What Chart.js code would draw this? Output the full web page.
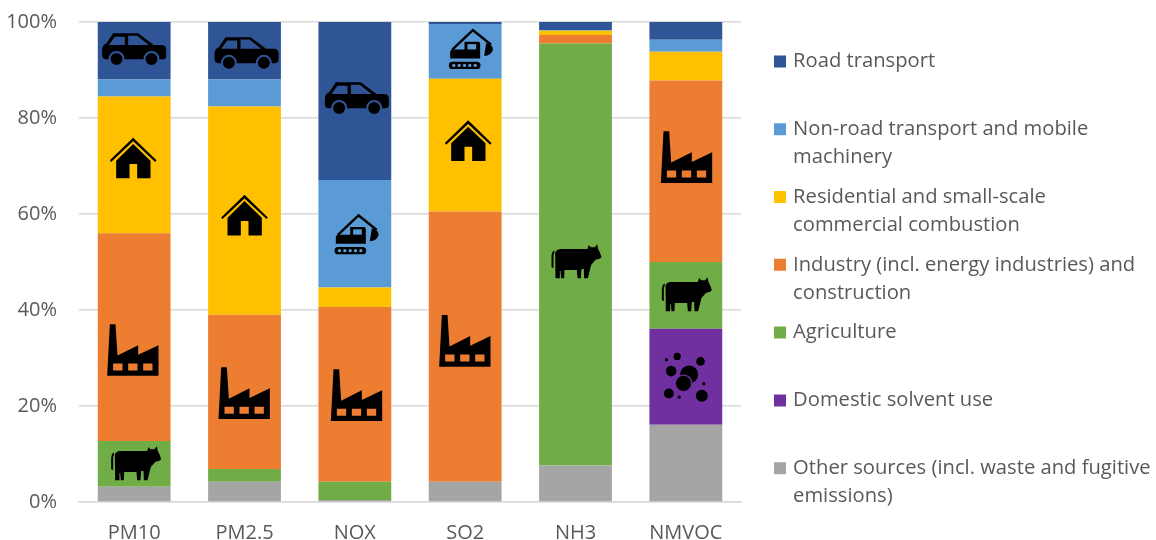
<!DOCTYPE html>
<html>
<head>
<meta charset="utf-8">
<script src="https://cdn.jsdelivr.net/npm/chart.js@4"></script>
<style>
  html, body { margin: 0; background: #fff; }
  canvas { display: block; }
</style>
</head>
<body>
<canvas id="chart" width="1156" height="540"></canvas>
<script>
const categories = ['PM10', 'PM2.5', 'NOX', 'SO2', 'NH3', 'NMVOC'];
const tickLabels = ['0%', '20%', '40%', '60%', '80%', '100%'];

const other = [3.2, 4.2, 0.4, 4.2, 7.6, 16.1];
const solvent = [0, 0, 0, 0, 0, 20];
const agriculture = [9.5, 2.7, 3.8, 0, 87.9, 13.9];
const industry = [43.3, 32.1, 36.4, 56.3, 1.8, 37.8];
const residential = [28.5, 43.4, 4.1, 27.7, 0.9, 6];
const nonRoad = [3.5, 5.6, 22.4, 11.4, 0.1, 2.5];
const road = [12, 12, 32.9, 0.4, 1.7, 3.7];

// pictograms, traced in 3x units round their own centre
const icons = {
  car: { c: [403, 148], parts: [
    ['k', 'M340 100 H415 L462 135 H485 Q499 135 499 150 V168 Q499 178 488 178 H320 Q307 178 307 165 V150 Q307 135 320 130 Z'],
    ['b', 'M327 135 L345 110 H375 V135 Z M385 107 H412 L447 135 H385 Z'],
    ['b', 'M326 177 a24 24 0 1 0 48 0 a24 24 0 1 0 -48 0 Z M431 177 a24 24 0 1 0 48 0 a24 24 0 1 0 -48 0 Z'],
    ['k', 'M332 177 a18 18 0 1 0 36 0 a18 18 0 1 0 -36 0 Z M437 177 a18 18 0 1 0 36 0 a18 18 0 1 0 -36 0 Z']
  ]},
  house: { c: [400, 475], parts: [
    ['k', 'M330 481 L400 413 L470 481 L466 486 L400 424 L334 486 Z'],
    ['k', 'M349 535 V482 L400 432 L452 482 V535 H412 V492 H389 V535 Z']
  ]},
  factory: { c: [400, 238], parts: [
    ['k', 'M330 161 H347 L353 255 L415 224 V253 L476 224 V316 H322 Z'],
    ['b', 'M340 279 h28 v21 h-28 Z M385 279 h28 v21 h-28 Z M430 279 h28 v21 h-28 Z']
  ]},
  excavator: { c: [1070, 700], parts: [
    ['k', 'M1010 702 L1075 640 L1132 686 L1127 691 L1075 650 L1016 706 Z'],
    ['k', 'M1050 680 H1092 Q1097 680 1097 690 V730 H1007 V712 Q1007 704 1015 703 H1050 Z'],
    ['b', 'M1059 687 H1085 V703 H1059 Z'],
    ['k', 'M1115 684 Q1137 690 1135 705 Q1130 722 1109 723 Z'],
    ['k', 'M1014 740 H1087 a11 11 0 0 1 0 22 H1014 a11 11 0 0 1 0 -22 Z'],
    ['b', 'M1013 751 a5 5 0 1 0 10 0 a5 5 0 1 0 -10 0 Z M1029 751 a5 5 0 1 0 10 0 a5 5 0 1 0 -10 0 Z M1045 751 a5 5 0 1 0 10 0 a5 5 0 1 0 -10 0 Z M1061 751 a5 5 0 1 0 10 0 a5 5 0 1 0 -10 0 Z M1077 751 a5 5 0 1 0 10 0 a5 5 0 1 0 -10 0 Z']
  ]},
  cow: { c: [408, 575], parts: [
    ['k', 'M333 595 V560 Q334 548 341 544 L342 550 Q339 556 339 565 V597 Z'],
    ['k', 'M344 552 Q346 541 360 540 H441 L445 528 L451 535 H463 L470 526 L473 540 Q480 552 483 565 Q478 572 466 572 L452 588 L442 628 H431 L430 600 H423 L421 628 H411 L409 603 H372 L371 628 H362 L360 606 H358 V628 H345 Z']
  ]},
  bubbles: { c: [917, 315], parts: [
    ['k', 'M900 311 a27 27 0 1 0 54 0 a27 27 0 1 0 -54 0 Z'],
    ['b', 'M883 338 a27 27 0 1 0 54 0 a27 27 0 1 0 -54 0 Z'],
    ['k', 'M887 338 a23 23 0 1 0 46 0 a23 23 0 1 0 -46 0 Z'],
    ['k', 'M857 301 a16 16 0 1 0 32 0 a16 16 0 1 0 -32 0 Z M880 257 a11 11 0 1 0 22 0 a11 11 0 1 0 -22 0 Z M948 272 a13 13 0 1 0 26 0 a13 13 0 1 0 -26 0 Z M854 267 a5 5 0 1 0 10 0 a5 5 0 1 0 -10 0 Z M966 339 a5 5 0 1 0 10 0 a5 5 0 1 0 -10 0 Z M851 368 a15 15 0 1 0 30 0 a15 15 0 1 0 -30 0 Z M947 375 a18 18 0 1 0 36 0 a18 18 0 1 0 -36 0 Z M892 379 a5 5 0 1 0 10 0 a5 5 0 1 0 -10 0 Z']
  ]}
};

// which pictogram sits in which stack: [icon, category, dataset index, height in %, x nudge]
const iconSpots = [
  ['car', 0, 6, 94.3, 0], ['car', 1, 6, 93.5, 2], ['car', 2, 6, 84.1, 2],
  ['house', 0, 4, 71.6, -1], ['house', 1, 4, 59.7, 0], ['house', 3, 4, 75.2, 3],
  ['excavator', 2, 5, 55.9, 2], ['excavator', 3, 5, 94.5, 6],
  ['factory', 0, 3, 31.7, -1], ['factory', 1, 3, 22.7, 0], ['factory', 2, 3, 22.3, 2],
  ['factory', 3, 3, 33.6, 0], ['factory', 5, 3, 71.9, 1],
  ['cow', 0, 2, 8.2, 2], ['cow', 4, 2, 50.3, 1], ['cow', 5, 2, 43.4, 1],
  ['bubbles', 5, 1, 26.3, 0]
];

const iconPlugin = {
  id: 'icons',
  afterDatasetsDraw(chart) {
    const ctx = chart.ctx;
    iconSpots.forEach(([name, cat, ds, pct, nudge]) => {
      const icon = icons[name];
      const x = chart.scales.x.getPixelForValue(cat) + nudge;
      const y = chart.scales.y.getPixelForValue(pct);
      ctx.save();
      ctx.translate(x, y);
      ctx.scale(1 / 3, 1 / 3);
      ctx.translate(-icon.c[0], -icon.c[1]);
      icon.parts.forEach(([tone, d]) => {
        ctx.fillStyle = tone === 'k' ? '#000' : chart.data.datasets[ds].backgroundColor;
        ctx.fill(new Path2D(d));
      });
      ctx.restore();
    });
  }
};

// layout caps a side box at a quarter of the width, so the legend is put back by hand
const legendSpot = {
  id: 'legendSpot',
  afterLayout(chart) {
    chart.legend.left = 766.2;
    chart.legend.right = 1156;
    chart.legend.top = 40.5;
    chart.legend.bottom = 540;
  }
};

const lines = {
  'Road transport': ['Road transport', ''],
  'Non-road transport and mobile machinery': ['Non-road transport and mobile', 'machinery'],
  'Residential and small-scale commercial combustion': ['Residential and small-scale', 'commercial combustion'],
  'Industry (incl. energy industries) and construction': ['Industry (incl. energy industries) and', 'construction'],
  'Agriculture': ['Agriculture', ''],
  'Domestic solvent use': ['Domestic solvent use', ''],
  'Other sources (incl. waste and fugitive emissions)': ['Other sources (incl. waste and fugitive', 'emissions)']
};

const font = "'Open Sans', sans-serif";
const grey = '#595959';

new Chart(document.getElementById('chart'), {
  type: 'bar',
  data: {
    labels: categories,
    datasets: [
      { label: 'Other sources (incl. waste and fugitive emissions)', data: other, backgroundColor: '#A5A5A5' },
      { label: 'Domestic solvent use', data: solvent, backgroundColor: '#7030A0' },
      { label: 'Agriculture', data: agriculture, backgroundColor: '#70AD47' },
      { label: 'Industry (incl. energy industries) and construction', data: industry, backgroundColor: '#ED7D31' },
      { label: 'Residential and small-scale commercial combustion', data: residential, backgroundColor: '#FFC000' },
      { label: 'Non-road transport and mobile machinery', data: nonRoad, backgroundColor: '#5B9BD5' },
      { label: 'Road transport', data: road, backgroundColor: '#2F5597' }
    ]
  },
  options: {
    responsive: false,
    animation: false,
    barPercentage: 0.66,
    categoryPercentage: 1,
    layout: { padding: { top: 22, right: 168, bottom: 0, left: 0 } },
    plugins: {
      tooltip: { enabled: false },
      legend: {
        position: 'right',
        align: 'start',
        labels: {
          // small box with a thick border: 12px on screen, but the text sits closer
          boxWidth: 6,
          boxHeight: 6,
          padding: 10.8,
          color: grey,
          font: { family: font, size: 20.2, lineHeight: 28.5 / 20.2 },
          generateLabels(chart) {
            return chart.data.datasets.map((ds, i) => ({
              text: lines[ds.label],
              fillStyle: ds.backgroundColor,
              strokeStyle: ds.backgroundColor,
              lineWidth: 6,
              fontColor: grey,
              datasetIndex: i
            })).reverse();
          }
        }
      }
    },
    scales: {
      x: {
        stacked: true,
        afterFit(scale) { scale.height = 38; },
        grid: { display: false, drawTicks: false },
        border: { color: '#D9D9D9', width: 1.5 },
        ticks: { color: grey, font: { family: font, size: 20 }, padding: 19, maxRotation: 0 }
      },
      y: {
        stacked: true,
        min: 0,
        max: 100,
        afterFit(scale) {
          scale.width = 79;
          scale.paddingTop = 0;
          scale.paddingBottom = 0;
        },
        grid: { color: '#D9D9D9', lineWidth: 1.5, drawTicks: false },
        border: { display: false },
        ticks: {
          stepSize: 20,
          padding: 22,
          color: grey,
          font: { family: font, size: 20 },
          callback(v) { return tickLabels[v / 20]; }
        }
      }
    }
  },
  plugins: [iconPlugin, legendSpot]
});
</script>
</body>
</html>
